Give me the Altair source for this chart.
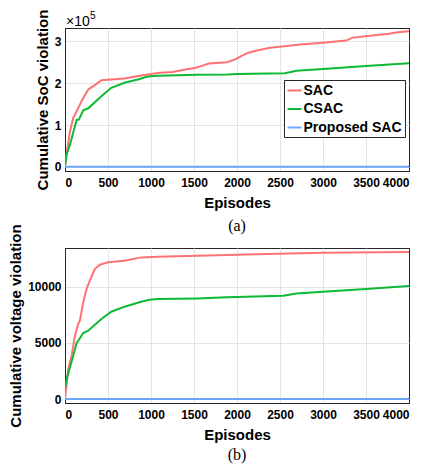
import altair as alt
import pandas as pd

# ---- (a) cumulative SoC violation ----
soc_sac_ep = [0, 19, 58, 96, 135, 200, 270, 350, 423, 500, 692, 850, 962, 1100, 1250,
              1400, 1519, 1600, 1673, 1884, 1980, 2060, 2134, 2230, 2384, 2577, 2769,
              3000, 3269, 3346, 3519, 3769, 3846, 4000]
soc_sac = [5000, 30000, 85000, 117000, 133000, 160000, 185000, 196000, 207000, 208000,
           211000, 217000, 221000, 225000, 227000, 233000, 237000, 242000, 247000,
           250000, 257000, 266000, 273000, 278000, 285000, 289000, 293000, 297000,
           302000, 309000, 313000, 318000, 321000, 324000]
soc_csac_ep = [0, 19, 58, 100, 135, 161, 212, 270, 423, 538, 692, 846, 962, 1077, 1538,
               1884, 2000, 2557, 2692, 3000, 3500, 4000]
soc_csac = [0, 30000, 53000, 85000, 112000, 113000, 135000, 140000, 169000, 189000,
            201000, 209000, 216000, 218000, 220000, 221000, 222000, 224000, 230000,
            234000, 241000, 248000]
soc_prop_ep = [0, 4000]
soc_prop = [0, 0]

# ---- (b) cumulative voltage violation ----
v_sac_ep = [0, 38, 77, 115, 154, 173, 212, 250, 288, 346, 404, 500, 692, 885, 1077,
            1538, 2230, 3000, 4000]
v_sac = [0, 2670, 3860, 5640, 6680, 6970, 8610, 9790, 10530, 11570, 11960, 12170,
         12310, 12610, 12670, 12760, 12900, 13030, 13090]
v_csac_ep = [0, 19, 58, 96, 135, 160, 212, 269, 423, 538, 692, 885, 981, 1077, 1538,
             1884, 2538, 2692, 3000, 3500, 4000]
v_csac = [900, 1780, 2820, 3860, 4990, 5250, 5880, 6080, 7120, 7770, 8220, 8660, 8840,
          8900, 8960, 9050, 9200, 9400, 9550, 9790, 10060]
v_prop_ep = [0, 4000]
v_prop = [0, 0]

series_names = ["SAC", "CSAC", "Proposed SAC"]
series_colors = ["#ff7272", "#0db935", "#6ea6ff"]
x_ticks = [0, 500, 1000, 1500, 2000, 2500, 3000, 3500, 4000]


def frame(eps_list, vals_list):
    rows = []
    for name, eps, vals in zip(series_names, eps_list, vals_list):
        for e, v in zip(eps, vals):
            rows.append({"Episode": e, "Value": v, "Method": name})
    return pd.DataFrame(rows)


df_a = frame([soc_sac_ep, soc_csac_ep, soc_prop_ep], [soc_sac, soc_csac, soc_prop])
df_b = frame([v_sac_ep, v_csac_ep, v_prop_ep], [v_sac, v_csac, v_prop])

FONT = "Liberation Sans"
W = 344
EDGE = "#262626"
GRID = "#e4e4e4"


def panel(df, ytitle, ydomain, yticks, ylabel_expr, height, legend_xy):
    color = alt.Color(
        "Method:N",
        scale=alt.Scale(domain=series_names, range=series_colors),
        legend=alt.Legend(
            title=None, orient="none", legendX=legend_xy[0], legendY=legend_xy[1],
            symbolType="stroke", symbolStrokeWidth=2, symbolSize=196,
            labelFont=FONT, labelFontSize=14, labelFontWeight="bold", labelColor="black",
            fillColor="white", strokeColor=EDGE, padding=2.5, rowPadding=3.5,
            labelOffset=1, cornerRadius=0,
        ),
    )
    xgrid = alt.condition("datum.value == 0 || datum.value == 4000", alt.value(EDGE), alt.value(GRID))
    lines = alt.Chart(df).mark_line(strokeWidth=2, clip=True).encode(
        x=alt.X("Episode:Q", scale=alt.Scale(domain=[0, 4000], nice=False, zero=False),
                axis=alt.Axis(values=x_ticks, title="Episodes", format="d",
                              gridColor=xgrid, labelPadding=6, titlePadding=7)),
        y=alt.Y("Value:Q", scale=alt.Scale(domain=ydomain, nice=False, zero=False),
                axis=alt.Axis(values=yticks, title=ytitle, labelExpr=ylabel_expr,
                              labelPadding=4, titlePadding=4)),
        color=color,
        order=alt.Order("Episode:Q"),
    )
    return lines.properties(width=W, height=height)


def caption(text, offset):
    return alt.TitleParams(text, orient="bottom", font="Liberation Serif",
                           fontSize=16, fontWeight="normal", color="black", offset=offset)


top_lines = panel(df_a, "Cumulative SoC violation", [-10000, 332000],
                  [0, 100000, 200000, 300000], "format(datum.value / 100000, 'd')",
                  143, (219, 52))
exp_base = alt.Chart(pd.DataFrame({"t": ["×10"]})).mark_text(
    align="left", baseline="alphabetic", font=FONT, fontSize=14, color="black"
).encode(x=alt.value(1), y=alt.value(-2), text="t:N")
exp_pow = alt.Chart(pd.DataFrame({"t": ["5"]})).mark_text(
    align="left", baseline="alphabetic", font=FONT, fontSize=10, color="black"
).encode(x=alt.value(25), y=alt.value(-9), text="t:N")
top = alt.layer(top_lines, exp_base, exp_pow).properties(title=caption("(a)", 8))

bottom = panel(df_b, "Cumulative voltage violation", [-356, 13446], [0, 5000, 10000],
               "format(datum.value, 'd')", 155, (219, 57)).properties(title=caption("(b)", 5))

chart = alt.vconcat(top, bottom, spacing=77, bounds="flush").properties(
    padding={"left": 0, "top": 0, "right": 0, "bottom": 0}
).configure_view(
    stroke=EDGE, strokeWidth=1
).configure_axis(
    labelFont=FONT, labelFontSize=12, labelFontWeight="bold", labelColor="black",
    titleFont=FONT, titleFontSize=15, titleFontWeight="bold", titleColor="black",
    grid=True, gridColor=GRID, gridWidth=1, domain=True, domainColor=EDGE,
    domainWidth=1, ticks=False,
)

chart.save("out.html", embed_options={"renderer": "svg", "actions": False})
